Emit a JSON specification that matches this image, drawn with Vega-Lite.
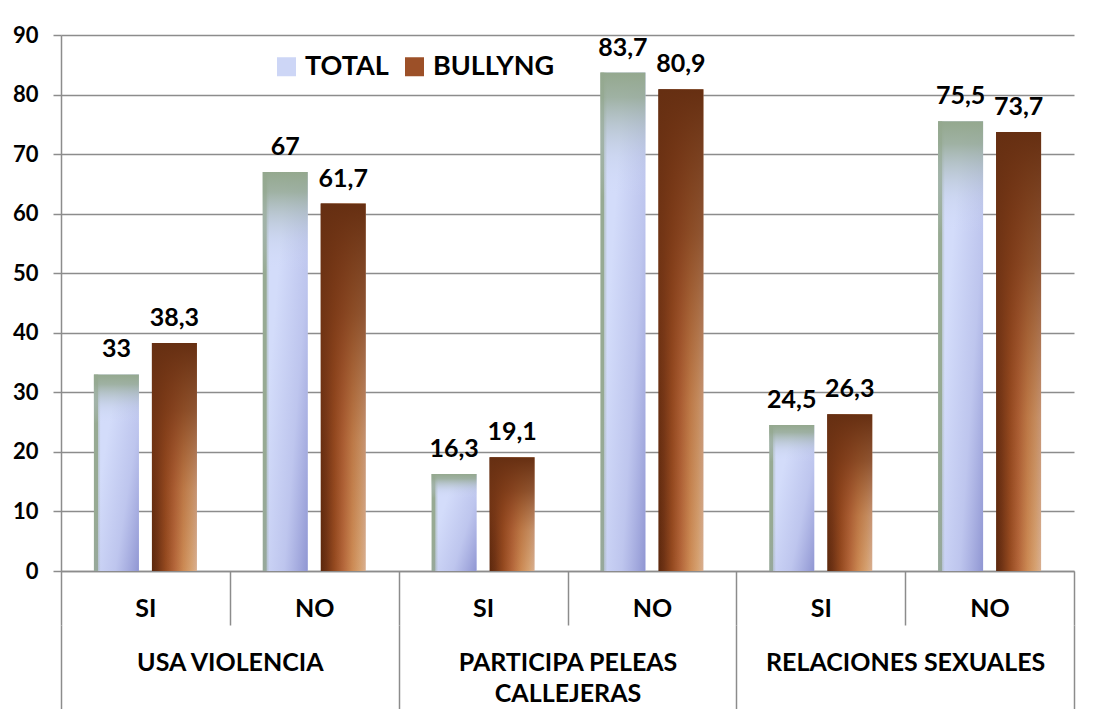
{
  "$schema": "https://vega.github.io/schema/vega-lite/v6.json",
  "autosize": "none",
  "width": 1013,
  "height": 536,
  "padding": {"left": 61, "top": 35, "right": 20, "bottom": 138},
  "background": "white",
  "config": {
    "font": "Lato",
    "view": {"stroke": null},
    "locale": {"number": {"decimal": ",", "thousands": ".", "grouping": [3], "currency": ["", " €"]}}
  },
  "datasets": {
    "valores": [
      {"grupo": "USA VIOLENCIA", "resp": "SI", "key": "USA VIOLENCIA|SI", "serie": "TOTAL", "valor": 33},
      {"grupo": "USA VIOLENCIA", "resp": "SI", "key": "USA VIOLENCIA|SI", "serie": "BULLYNG", "valor": 38.3},
      {"grupo": "USA VIOLENCIA", "resp": "NO", "key": "USA VIOLENCIA|NO", "serie": "TOTAL", "valor": 67},
      {"grupo": "USA VIOLENCIA", "resp": "NO", "key": "USA VIOLENCIA|NO", "serie": "BULLYNG", "valor": 61.7},
      {"grupo": "PARTICIPA PELEAS CALLEJERAS", "resp": "SI", "key": "PARTICIPA PELEAS CALLEJERAS|SI", "serie": "TOTAL", "valor": 16.3},
      {"grupo": "PARTICIPA PELEAS CALLEJERAS", "resp": "SI", "key": "PARTICIPA PELEAS CALLEJERAS|SI", "serie": "BULLYNG", "valor": 19.1},
      {"grupo": "PARTICIPA PELEAS CALLEJERAS", "resp": "NO", "key": "PARTICIPA PELEAS CALLEJERAS|NO", "serie": "TOTAL", "valor": 83.7},
      {"grupo": "PARTICIPA PELEAS CALLEJERAS", "resp": "NO", "key": "PARTICIPA PELEAS CALLEJERAS|NO", "serie": "BULLYNG", "valor": 80.9},
      {"grupo": "RELACIONES SEXUALES", "resp": "SI", "key": "RELACIONES SEXUALES|SI", "serie": "TOTAL", "valor": 24.5},
      {"grupo": "RELACIONES SEXUALES", "resp": "SI", "key": "RELACIONES SEXUALES|SI", "serie": "BULLYNG", "valor": 26.3},
      {"grupo": "RELACIONES SEXUALES", "resp": "NO", "key": "RELACIONES SEXUALES|NO", "serie": "TOTAL", "valor": 75.5},
      {"grupo": "RELACIONES SEXUALES", "resp": "NO", "key": "RELACIONES SEXUALES|NO", "serie": "BULLYNG", "valor": 73.7}
    ],
    "grupos": [
      {"grupo": "USA VIOLENCIA"},
      {"grupo": "PARTICIPA PELEAS CALLEJERAS"},
      {"grupo": "RELACIONES SEXUALES"}
    ]
  },
  "layer": [
    {
      "data": {"name": "valores"},
      "encoding": {
        "x": {
          "field": "key", "type": "nominal", "sort": null,
          "scale": {"type": "band", "paddingInner": 0, "paddingOuter": 0},
          "axis": {
            "title": null, "labelExpr": "split(datum.label, '|')[1]", "labelAngle": 0,
            "domain": true, "domainColor": "#8c8c8c", "domainWidth": 1.5,
            "ticks": true, "tickBand": "extent", "tickSize": 54, "tickColor": "#8c8c8c", "tickWidth": 1.5,
            "labelFontSize": 25, "labelFontWeight": "bold", "labelColor": "#000000",
            "labelPadding": -29, "labelBaseline": "top", "labelLimit": 0
          }
        },
        "xOffset": {
          "field": "serie", "type": "nominal",
          "scale": {"domain": ["TOTAL", "BULLYNG"], "paddingInner": 0.224, "paddingOuter": 0.567}
        },
        "y": {
          "field": "valor", "type": "quantitative",
          "scale": {"domain": [0, 90], "nice": false},
          "axis": {
            "title": null, "values": [0, 10, 20, 30, 40, 50, 60, 70, 80, 90],
            "grid": true, "gridColor": "#8c8c8c", "gridWidth": 1.5,
            "domain": true, "domainColor": "#8c8c8c", "domainWidth": 1.5,
            "ticks": true, "tickSize": 8, "tickColor": "#8c8c8c", "tickWidth": 1.5,
            "labelFontSize": 22, "labelFontWeight": "bold", "labelColor": "#000000", "labelPadding": 15
          }
        }
      },
      "layer": [
        {
          "transform": [{"filter": "datum.serie === 'TOTAL'"}],
          "mark": {
            "type": "bar",
            "fill": {"gradient": "linear", "x1": 0, "y1": 0, "x2": 1, "y2": 0, "stops": [
              {"offset": 0, "color": "#97aa93"},
              {"offset": 0.08, "color": "#97aa93"},
              {"offset": 0.09, "color": "#b8c6cc"},
              {"offset": 0.15, "color": "#d3dcfa"},
              {"offset": 1, "color": "#d3dcfa"}
            ]}
          },
          "encoding": {
            "color": {
              "field": "serie", "type": "nominal",
              "scale": {"domain": ["TOTAL", "BULLYNG"], "range": ["#cdd6f6", "#9c5028"]},
              "legend": {
                "title": null, "orient": "none", "legendX": 212, "legendY": 18, "direction": "horizontal",
                "symbolType": "square", "symbolSize": 361, "symbolStrokeWidth": 0,
                "labelFontSize": 27, "labelFontWeight": "bold", "labelColor": "#000000",
                "labelOffset": 5, "columnPadding": 12
              }
            }
          }
        },
        {
          "transform": [{"filter": "datum.serie === 'TOTAL'"}],
          "mark": {
            "type": "bar",
            "fill": {"gradient": "linear", "x1": 0.2, "y1": 0.45, "x2": 1, "y2": 1, "stops": [
              {"offset": 0, "color": "rgba(150,155,215,0)"},
              {"offset": 0.55, "color": "rgba(150,155,215,0.35)"},
              {"offset": 1, "color": "rgba(140,146,208,0.95)"}
            ]}
          }
        },
        {
          "transform": [{"filter": "datum.serie === 'TOTAL'"}],
          "mark": {
            "type": "bar",
            "fill": {"gradient": "linear", "x1": 0, "y1": 0, "x2": 0, "y2": 1, "stops": [
              {"offset": 0, "color": "rgba(148,168,142,1)"},
              {"offset": 0.05, "color": "rgba(150,170,148,0.85)"},
              {"offset": 0.17, "color": "rgba(185,198,215,0.25)"},
              {"offset": 0.25, "color": "rgba(211,220,250,0)"},
              {"offset": 1, "color": "rgba(211,220,250,0)"}
            ]}
          }
        },
        {
          "transform": [{"filter": "datum.serie === 'BULLYNG'"}],
          "mark": {
            "type": "bar",
            "fill": {"gradient": "linear", "x1": 0, "y1": 0, "x2": 1, "y2": 0, "stops": [
              {"offset": 0, "color": "#5c280d"},
              {"offset": 0.12, "color": "#6e3214"},
              {"offset": 0.3, "color": "#94491f"},
              {"offset": 0.5, "color": "#b4663a"},
              {"offset": 0.7, "color": "#cc8a54"},
              {"offset": 0.88, "color": "#d6a272"},
              {"offset": 1, "color": "#d9b092"}
            ]}
          },
          "encoding": {
            "color": {"field": "serie", "type": "nominal", "legend": null}
          }
        },
        {
          "transform": [{"filter": "datum.serie === 'BULLYNG'"}],
          "mark": {
            "type": "bar",
            "fill": {"gradient": "linear", "x1": 0, "y1": 0, "x2": 0, "y2": 1, "stops": [
              {"offset": 0, "color": "rgba(102,47,18,1)"},
              {"offset": 0.3, "color": "rgba(118,55,22,0.75)"},
              {"offset": 0.65, "color": "rgba(140,66,28,0.25)"},
              {"offset": 1, "color": "rgba(140,66,28,0)"}
            ]}
          }
        },
        {
          "mark": {"type": "text", "fontSize": 25, "fontWeight": "bold", "color": "#000000", "baseline": "alphabetic", "dy": -17},
          "encoding": {
            "text": {"field": "valor", "type": "quantitative", "format": ".1~f"}
          }
        }
      ]
    },
    {
      "data": {"name": "grupos"},
      "mark": {"type": "point", "opacity": 0},
      "encoding": {
        "x": {
          "field": "grupo", "type": "nominal", "sort": null,
          "scale": {"type": "band", "paddingInner": 0, "paddingOuter": 0},
          "axis": {
            "title": null, "orient": "bottom", "offset": 54, "labelAngle": 0,
            "domain": false, "ticks": true, "tickBand": "extent", "tickSize": 90,
            "tickColor": "#8c8c8c", "tickWidth": 1.5,
            "labelFontSize": 25, "labelFontWeight": "bold", "labelColor": "#000000",
            "labelPadding": -65, "labelBaseline": "top", "labelLineHeight": 31, "labelLimit": 0,
            "labelExpr": "datum.label == 'PARTICIPA PELEAS CALLEJERAS' ? ['PARTICIPA PELEAS', 'CALLEJERAS'] : datum.label"
          }
        }
      }
    }
  ],
  "resolve": {"scale": {"x": "independent"}, "axis": {"x": "independent"}}
}
